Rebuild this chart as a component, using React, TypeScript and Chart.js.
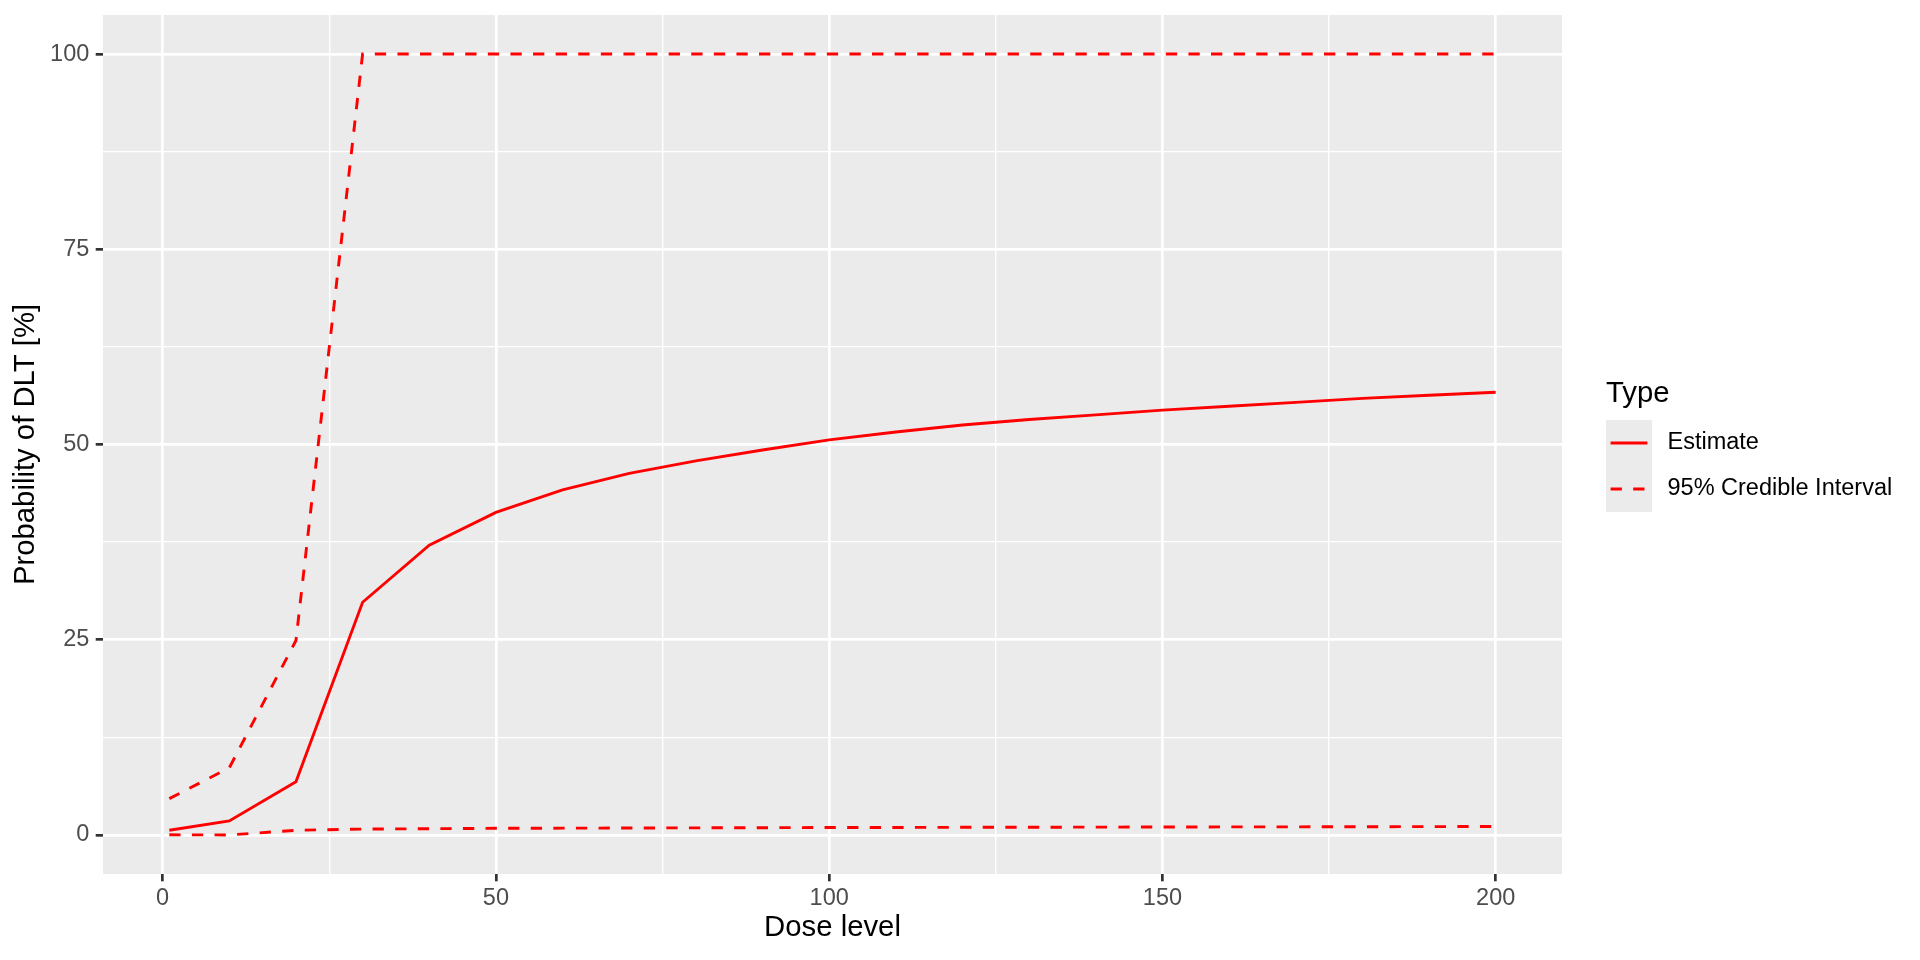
import React, { useEffect, useRef } from "react";
import { Chart, registerables } from "chart.js";

Chart.register(...registerables);

// ---- data ----
const doseLevels = [1, 10, 20, 30, 40, 50, 60, 70, 80, 90, 100, 110, 120, 130, 140, 150, 160, 170, 180, 190, 200];
const estimate = [0.6, 1.8, 6.8, 29.8, 37.1, 41.3, 44.2, 46.3, 47.9, 49.3, 50.6, 51.6, 52.5, 53.2, 53.8, 54.4, 54.9, 55.4, 55.9, 56.3, 56.7];
const upperCI = [4.65, 8.6, 24.9, 100, 100, 100, 100, 100, 100, 100, 100, 100, 100, 100, 100, 100, 100, 100, 100, 100, 100];
const lowerCI = [0.02, 0, 0.6, 0.75, 0.8, 0.85, 0.87, 0.89, 0.91, 0.93, 0.95, 0.96, 0.98, 0.99, 1.0, 1.02, 1.03, 1.04, 1.05, 1.07, 1.08];

const xTicks = [0, 50, 100, 150, 200];
const xMinorTicks = [25, 75, 125, 175];
const yTicks = [0, 25, 50, 75, 100];
const yMinorTicks = [12.5, 37.5, 62.5, 87.5];

const legendTitle = "Type";
const seriesLabels = ["Estimate", "95% Credible Interval"];
const xTitle = "Dose level";
const yTitle = "Probability of DLT [%]";

// ---- styles ----
const FONT = "'Liberation Sans', Arial, Helvetica, sans-serif";
const RED = "#FF0000";
const PANEL_BG = "#EBEBEB";
const LINE_W = 2.9;
const DASH = [11.3, 11.3];

const toPoints = (ys: number[]) => doseLevels.map((x, i) => ({ x, y: ys[i] }));

const panelBg = {
  id: "panelBg",
  beforeDraw(chart: any) {
    const { ctx, chartArea } = chart;
    ctx.save();
    ctx.fillStyle = PANEL_BG;
    ctx.fillRect(chartArea.left, chartArea.top, chartArea.right - chartArea.left, chartArea.bottom - chartArea.top);
    ctx.restore();
  },
};

const ggLegend = {
  id: "ggLegend",
  afterDraw(chart: any) {
    const { ctx, chartArea } = chart;
    const x0 = chartArea.right + 44;
    ctx.save();
    ctx.fillStyle = "#000000";
    ctx.font = `29.3px ${FONT}`;
    ctx.textAlign = "left";
    ctx.textBaseline = "alphabetic";
    ctx.fillText(legendTitle, x0, 401.7);
    const keyTop = 420;
    const keySize = 46;
    const dashes = [[], DASH];
    seriesLabels.forEach((label, i) => {
      const ky = keyTop + i * keySize;
      ctx.fillStyle = PANEL_BG;
      ctx.fillRect(x0, ky, keySize, keySize);
      ctx.strokeStyle = RED;
      ctx.lineWidth = LINE_W;
      ctx.setLineDash(dashes[i]);
      ctx.beginPath();
      ctx.moveTo(x0 + keySize * 0.1, ky + keySize / 2);
      ctx.lineTo(x0 + keySize * 0.9, ky + keySize / 2);
      ctx.stroke();
      ctx.setLineDash([]);
      ctx.fillStyle = "#000000";
      ctx.font = `23.5px ${FONT}`;
      ctx.textBaseline = "middle";
      ctx.fillText(label, x0 + keySize + 15.5, ky + keySize / 2);
    });
    ctx.restore();
  },
};

function makeAxis(min: number, max: number, major: number[], minor: number[], fit: (s: any) => void, title: string, titlePadding: any, labelPadding: number) {
  const isMajor = (v: number) => major.includes(v);
  return {
    type: "linear" as const,
    min,
    max,
    afterBuildTicks: (s: any) => {
      s.ticks = [...major, ...minor].sort((a, b) => a - b).map((v) => ({ value: v }));
    },
    afterFit: (s: any) => {
      fit(s);
      s.paddingTop = 0;
      s.paddingBottom = 0;
      s.paddingLeft = 0;
      s.paddingRight = 0;
    },
    ticks: {
      autoSkip: false,
      maxRotation: 0,
      padding: labelPadding,
      color: "#4D4D4D",
      font: { family: FONT, size: 23.5 },
      callback: (v: any) => (isMajor(Number(v)) ? String(v) : ""),
    },
    grid: {
      color: "#FFFFFF",
      lineWidth: (c: any) => (c.tick && isMajor(c.tick.value) ? 2.7 : 1.35),
      tickColor: (c: any) => (c.tick && isMajor(c.tick.value) ? "#333333" : "rgba(0,0,0,0)"),
      tickWidth: 2.7,
      tickLength: 7.3,
      drawTicks: true,
    },
    border: { display: false },
    title: {
      display: true,
      text: title,
      color: "#000000",
      font: { family: FONT, size: 29.3 },
      padding: titlePadding,
    },
  };
}

export default function App() {
  const ref = useRef<HTMLCanvasElement | null>(null);
  useEffect(() => {
    if (!ref.current) return;
    const chart = new Chart(ref.current, {
      type: "line",
      data: {
        datasets: [
          {
            label: seriesLabels[1],
            data: toPoints(upperCI),
            borderColor: RED,
            borderWidth: LINE_W,
            borderDash: DASH,
            pointRadius: 0,
            fill: false,
            tension: 0,
          },
          {
            label: seriesLabels[1],
            data: toPoints(lowerCI),
            borderColor: RED,
            borderWidth: LINE_W,
            borderDash: DASH,
            pointRadius: 0,
            fill: false,
            tension: 0,
          },
          {
            label: seriesLabels[0],
            data: toPoints(estimate),
            borderColor: RED,
            borderWidth: LINE_W,
            pointRadius: 0,
            fill: false,
            tension: 0,
          },
        ],
      },
      options: {
        responsive: false,
        animation: false,
        parsing: false as any,
        layout: { padding: { left: 0, top: 15, right: 358, bottom: 0 } },
        plugins: { legend: { display: false }, tooltip: { enabled: false } },
        scales: {
          x: makeAxis(-8.95, 209.95, xTicks, xMinorTicks, (s: any) => { s.height = 86; }, xTitle, { top: 0, bottom: 15 }, 3),
          y: makeAxis(-5, 105, yTicks, yMinorTicks, (s: any) => { s.width = 103; }, yTitle, { top: 8, bottom: 0 }, 6.4),
        },
      },
      plugins: [panelBg, ggLegend],
    });
    return () => chart.destroy();
  }, []);
  return (
    <div style={{ position: "fixed", left: 0, top: 0, width: 1920, height: 960, background: "#FFFFFF" }}>
      <canvas ref={ref} width={1920} height={960} style={{ width: 1920, height: 960, display: "block" }} />
    </div>
  );
}
